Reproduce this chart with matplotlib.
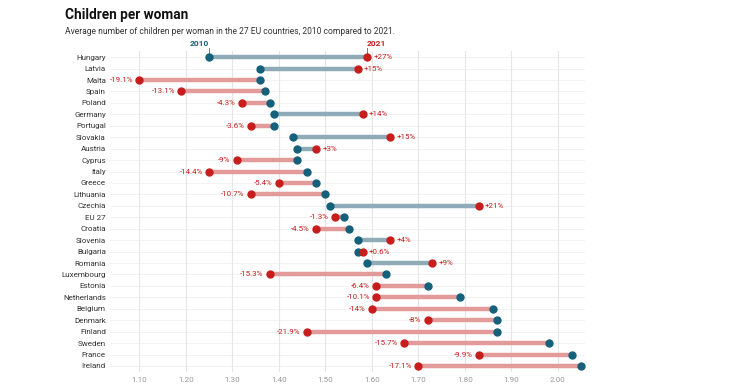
import matplotlib.pyplot as plt
import numpy as np

plt.rcParams['font.family'] = ['Roboto', 'DejaVu Sans']

countries = ['Hungary', 'Latvia', 'Malta', 'Spain', 'Poland', 'Germany', 'Portugal',
             'Slovakia', 'Austria', 'Cyprus', 'Italy', 'Greece', 'Lithuania', 'Czechia',
             'EU 27', 'Croatia', 'Slovenia', 'Bulgaria', 'Romania', 'Luxembourg', 'Estonia',
             'Netherlands', 'Belgium', 'Denmark', 'Finland', 'Sweden', 'France', 'Ireland']
y2010 = [1.25, 1.36, 1.36, 1.37, 1.38, 1.39, 1.39, 1.43, 1.44, 1.44, 1.46, 1.48, 1.50, 1.51,
         1.54, 1.55, 1.57, 1.57, 1.59, 1.63, 1.72, 1.79, 1.86, 1.87, 1.87, 1.98, 2.03, 2.05]
y2021 = [1.59, 1.57, 1.10, 1.19, 1.32, 1.58, 1.34, 1.64, 1.48, 1.31, 1.25, 1.40, 1.34, 1.83,
         1.52, 1.48, 1.64, 1.58, 1.73, 1.38, 1.61, 1.61, 1.60, 1.72, 1.46, 1.67, 1.83, 1.70]
change = ['+27%', '+15%', '-19.1%', '-13.1%', '-4.3%', '+14%', '-3.6%', '+15%', '+3%', '-9%',
          '-14.4%', '-5.4%', '-10.7%', '+21%', '-1.3%', '-4.5%', '+4%', '+0.6%', '+9%',
          '-15.3%', '-6.4%', '-10.1%', '-14%', '-8%', '-21.9%', '-15.7%', '-9.9%', '-17.1%']
xticks = [1.1, 1.2, 1.3, 1.4, 1.5, 1.6, 1.7, 1.8, 1.9, 2.0]

c_old = '#15607a'
c_new = '#c71e1d'
c_up = '#8fabb8'
c_down = '#e39a9a'

fig = plt.figure(figsize=(7.5, 3.84), dpi=100)
ax = fig.add_axes([0.1467, 0.032, 0.633, 0.834])

ypos = np.arange(len(countries))
for i in ypos:
    a, b = y2010[i], y2021[i]
    col = c_up if b > a else c_down
    ax.plot([a, b], [i, i], color=col, lw=3.2, solid_capstyle='butt', zorder=2)
    ax.plot(a, i, 'o', color=c_old, ms=5, zorder=3)
    ax.plot(b, i, 'o', color=c_new, ms=5, zorder=4)
    if b > a:
        ax.annotate(change[i], (b, i), xytext=(4.5, 0), textcoords='offset points',
                    ha='left', va='center', fontsize=5.7, color=c_new)
    else:
        ax.annotate(change[i], (b, i), xytext=(-4.5, 0), textcoords='offset points',
                    ha='right', va='center', fontsize=5.7, color=c_new)

ax.set_xlim(1.037, 2.058)
ax.set_ylim(len(countries) - 0.5, -0.5)
ax.set_yticks(ypos)
ax.set_yticklabels(countries, fontsize=5.8, color='#333333')
ax.set_xticks(xticks)
ax.set_xticklabels(['%.2f' % t for t in xticks], fontsize=5.8, color='#999999')
ax.tick_params(length=0, pad=3)
ax.tick_params(axis='x', pad=4)
for sp in ax.spines.values():
    sp.set_visible(False)
ax.grid(axis='x', color='#e6e6e6', lw=0.8, zorder=0)
for i in ypos:
    ax.axhline(i, color='#f0f0f0', lw=0.6, zorder=0)
ax.set_axisbelow(True)

# series labels above the first row
ax.annotate('2010', (y2010[0], 0), xytext=(0, 7.5), textcoords='offset points',
            ha='right', va='bottom', fontsize=6, fontweight='bold', color=c_old,
            annotation_clip=False)
ax.annotate('2021', (y2021[0], 0), xytext=(0, 7.5), textcoords='offset points',
            ha='left', va='bottom', fontsize=6, fontweight='bold', color=c_new,
            annotation_clip=False)
for v in [y2010[0], y2021[0]]:
    ax.plot([v, v], [-0.3, -0.78], color='#777777', lw=0.7, clip_on=False, zorder=1)

fig.text(0.0867, 0.978, 'Children per woman', fontsize=9.8, fontweight='bold',
         color='#111111', ha='left', va='top')
fig.text(0.0867, 0.93, 'Average number of children per woman in the 27 EU countries, 2010 compared to 2021.',
         fontsize=6.15, color='#333333', ha='left', va='top')

fig.savefig('out.png', dpi=100)
